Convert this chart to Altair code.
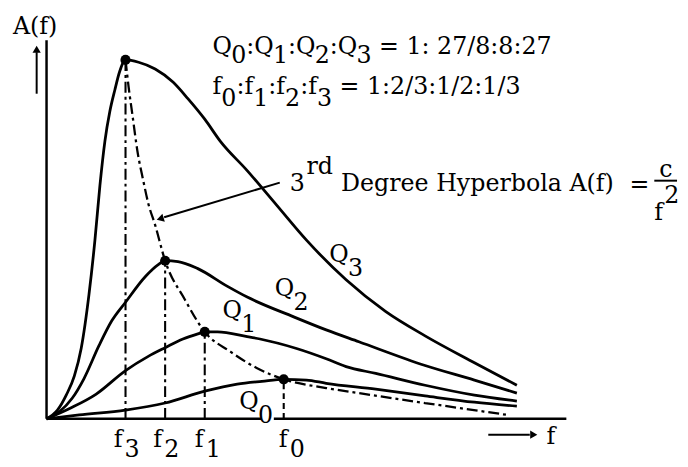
import altair as alt
import pandas as pd

# ---------------- data (f in units of f0, A in units of A(f0)) ----------------
q3_f = [0, 0.046, 0.083, 0.117, 0.146, 0.179, 0.204, 0.225, 0.246, 0.267, 0.288, 0.308, 0.333,
        0.388, 0.458, 0.533, 0.596, 0.667, 0.733, 0.846, 0.971, 1.096, 1.263, 1.429, 1.596, 1.804, 1.983]
q3_a = [0, 0.22, 0.6, 1.08, 1.78, 3.15, 4.52, 5.9, 7.02, 7.78, 8.32, 8.78, 9.08,
        9.02, 8.85, 8.52, 8.1, 7.58, 7.02, 6.28, 5.4, 4.52, 3.52, 2.72, 2.1, 1.42, 0.85]

q2_f = [0, 0.054, 0.108, 0.158, 0.221, 0.275, 0.333, 0.417, 0.471, 0.5, 0.554, 0.638,
        0.763, 0.846, 1.042, 1.179, 1.317, 1.596, 1.804, 1.983]
q2_a = [0, 0.18, 0.52, 1.02, 1.85, 2.48, 2.95, 3.6, 3.9, 4.0, 3.98, 3.8,
        3.35, 3.08, 2.58, 2.25, 1.95, 1.35, 0.98, 0.65]

q1_f = [0, 0.104, 0.208, 0.333, 0.429, 0.5, 0.575, 0.638, 0.667, 0.721, 0.846, 0.9,
        1.054, 1.179, 1.263, 1.388, 1.596, 1.804, 1.983]
q1_a = [0, 0.28, 0.62, 1.22, 1.58, 1.8, 2.02, 2.15, 2.2, 2.2, 2.08, 2.02,
        1.78, 1.52, 1.32, 1.15, 0.85, 0.6, 0.45]

q0_f = [0, 0.138, 0.333, 0.5, 0.667, 0.804, 0.908, 1.0, 1.096, 1.179, 1.388, 1.596, 1.804, 1.983]
q0_a = [0, 0.1, 0.22, 0.4, 0.7, 0.88, 0.95, 1.0, 0.98, 0.9, 0.75, 0.58, 0.42, 0.32]

hyp_f = [0.333, 0.346, 0.363, 0.383, 0.408, 0.429, 0.458, 0.5, 0.583, 0.667, 0.775,
         0.888, 1.0, 1.179, 1.317, 1.596, 1.942]
hyp_a = [9.08, 8.4, 7.65, 6.78, 6.02, 5.45, 4.9, 4.0, 3.02, 2.2, 1.7,
         1.28, 1.0, 0.78, 0.65, 0.4, 0.1]

peak_names = ["3", "2", "1", "0"]
peak_f = [0.333, 0.5, 0.667, 1.0]
peak_a = [9.08, 4.0, 2.2, 1.0]

# ---------------- geometry ----------------
W, H = 680, 459
X0, Y0 = 39, 413      # chart pixel of the origin
SX, SY = 240, 40      # pixels per unit
fdom = [-X0 / SX, (W - X0) / SX]
adom = [(Y0 - H) / SY, Y0 / SY]


def pf(px):  # page pixel x -> f
    return (px - 8 - X0) / SX


def pa(py):  # page pixel y -> A
    return (Y0 - (py - 8)) / SY


xs = alt.Scale(domain=fdom, nice=False, zero=False)
ys = alt.Scale(domain=adom, nice=False, zero=False)
FONT = "DejaVu Serif"
FS = 24

X = lambda fld: alt.X(fld, scale=xs, axis=None)
Y = lambda fld: alt.Y(fld, scale=ys, axis=None)

# ---------------- curves ----------------
rows = []
for name, fs, As in [("Q3", q3_f, q3_a), ("Q2", q2_f, q2_a), ("Q1", q1_f, q1_a), ("Q0", q0_f, q0_a)]:
    for i, (f, a) in enumerate(zip(fs, As)):
        rows.append({"series": name, "f": f, "A": a, "i": i})
curves_df = pd.DataFrame(rows)
hyp_df = pd.DataFrame({"f": hyp_f, "A": hyp_a})
peaks_df = pd.DataFrame({"name": peak_names, "f": peak_f, "A": peak_a, "zero": [0.0] * 4})

curves = alt.Chart(curves_df).mark_line(interpolate="monotone", color="black", strokeWidth=2.8).encode(
    x=X("f:Q"), y=Y("A:Q"), detail="series:N", order="i:Q")
hyp = alt.Chart(hyp_df).mark_line(interpolate="monotone", color="black", strokeWidth=2.3,
                                  strokeDash=[11, 4, 3, 4]).encode(x=X("f:Q"), y=Y("A:Q"))

vdash = alt.Chart(peaks_df[peaks_df.name != "0"]).mark_rule(color="black", strokeWidth=2.1,
                                                           strokeDash=[11, 4, 3, 4]).encode(
    x=X("f:Q"), y=Y("zero:Q"), y2="A:Q")
vdash0 = alt.Chart(peaks_df[peaks_df.name == "0"]).mark_rule(color="black", strokeWidth=2.1,
                                                            strokeDash=[6, 4]).encode(
    x=X("f:Q"), y=Y("zero:Q"), y2="A:Q")
dots = alt.Chart(peaks_df).mark_circle(color="black", opacity=1, size=105).encode(
    x=X("f:Q"), y=Y("A:Q"))

# ---------------- axes & arrows (annotation geometry) ----------------
axis_df = pd.DataFrame([
    {"x": 0, "x2": 0, "y": 0, "y2": pa(38)},                 # y axis
    {"x": 0, "x2": pf(264), "y": 0, "y2": 0},                # x axis (left part)
    {"x": pf(277), "x2": pf(573), "y": 0, "y2": 0},          # x axis (right part)
])
thin_df = pd.DataFrame([
    {"x": pf(37), "x2": pf(37), "y": pa(92), "y2": pa(50)},    # A(f) arrow shaft
    {"x": pf(494), "x2": pf(536), "y": pa(437), "y2": pa(437)},  # f arrow shaft
    {"x": pf(283), "x2": pf(166), "y": pa(182), "y2": pa(217)},  # hyperbola arrow
    {"x": pf(662), "x2": pf(685), "y": pa(180), "y2": pa(180)},  # fraction bar
])
axes = alt.Chart(axis_df).mark_rule(color="black", strokeWidth=2.5).encode(
    x=X("x:Q"), x2="x2:Q", y=Y("y:Q"), y2="y2:Q")
thin = alt.Chart(thin_df).mark_rule(color="black", strokeWidth=2).encode(
    x=X("x:Q"), x2="x2:Q", y=Y("y:Q"), y2="y2:Q")


def head(px, py, shape, ang):
    d = pd.DataFrame({"x": [pf(px)], "y": [pa(py)]})
    return alt.Chart(d).mark_point(filled=True, color="black", opacity=1, size=70,
                                   strokeWidth=0, shape=shape, angle=ang).encode(
        x=X("x:Q"), y=Y("y:Q"))


heads = [head(37, 47, "triangle-up", 0), head(540, 437, "triangle-right", 0),
         head(162, 218.5, "triangle-right", 163)]

# ---------------- text ----------------
WID = {" ": .318, "(": .39, ")": .39, "/": .337, ":": .337, "=": .838, "A": .722, "Q": .787,
       "f": .371, "c": .56}
for d in "0123456789":
    WID[d] = .636


def layout(x0, base, parts, sub_dy):
    out, x = [], x0
    for txt, sub in parts:
        lead = len(txt) - len(txt.lstrip(" "))
        x += lead * WID[" "] * FS
        txt = txt.lstrip(" ")
        out.append({"x": pf(x), "y": pa(base + (sub_dy if sub else 0)), "t": txt})
        x += sum(WID.get(ch, .6) for ch in txt) * FS
    return out


texts = []
texts.append({"x": pf(13), "y": pa(32), "t": "A(f)"})
texts += layout(215, 52, [("Q", 0), ("0", 1), (":Q", 0), ("1", 1), (":Q", 0), ("2", 1),
                          (":Q", 0), ("3", 1), (" = 1:", 0), (" 27/8:8:27", 0)], 9)
texts += layout(215, 92, [("f", 0), ("0", 1), (":f", 0), ("1", 1), (":f", 0), ("2", 1),
                          (":f", 0), ("3", 1), (" = 1:2/3:1/2:1/3", 0)], 12)
texts += [
    {"x": pf(293), "y": pa(190), "t": "3"},
    {"x": pf(310), "y": pa(173), "t": "rd"},
    {"x": pf(345), "y": pa(190), "t": "Degree Hyperbola A(f)"},
    {"x": pf(637), "y": pa(191), "t": "="},
    {"x": pf(667), "y": pa(176), "t": "c"},
    {"x": pf(662), "y": pa(220), "t": "f"},
    {"x": pf(672), "y": pa(203), "t": "2"},
]
for qx, qy, s in [(333, 262, "3"), (278, 297, "2"), (225, 319, "1"), (242, 411, "0")]:
    texts.append({"x": pf(qx), "y": pa(qy), "t": "Q"})
    texts.append({"x": pf(qx + 19), "y": pa(qy + 14), "t": s})
for fx, s in [(115, "3"), (155, "2"), (197, "1"), (282, "0")]:
    texts.append({"x": pf(fx), "y": pa(449), "t": "f"})
    texts.append({"x": pf(fx + 11), "y": pa(460), "t": s})
texts.append({"x": pf(553), "y": pa(446), "t": "f"})
text_df = pd.DataFrame(texts)

labels = alt.Chart(text_df).mark_text(align="left", baseline="alphabetic", font=FONT,
                                      fontSize=FS, color="black").encode(
    x=X("x:Q"), y=Y("y:Q"), text="t:N")

chart = alt.layer(axes, thin, vdash, vdash0, hyp, curves, dots, *heads, labels).properties(
    width=W, height=H, autosize=alt.AutoSizeParams(type="none"), padding=0,
    background="white",
).configure_view(strokeWidth=0)

chart.save("out.html", embed_options={"renderer": "svg", "actions": False})
